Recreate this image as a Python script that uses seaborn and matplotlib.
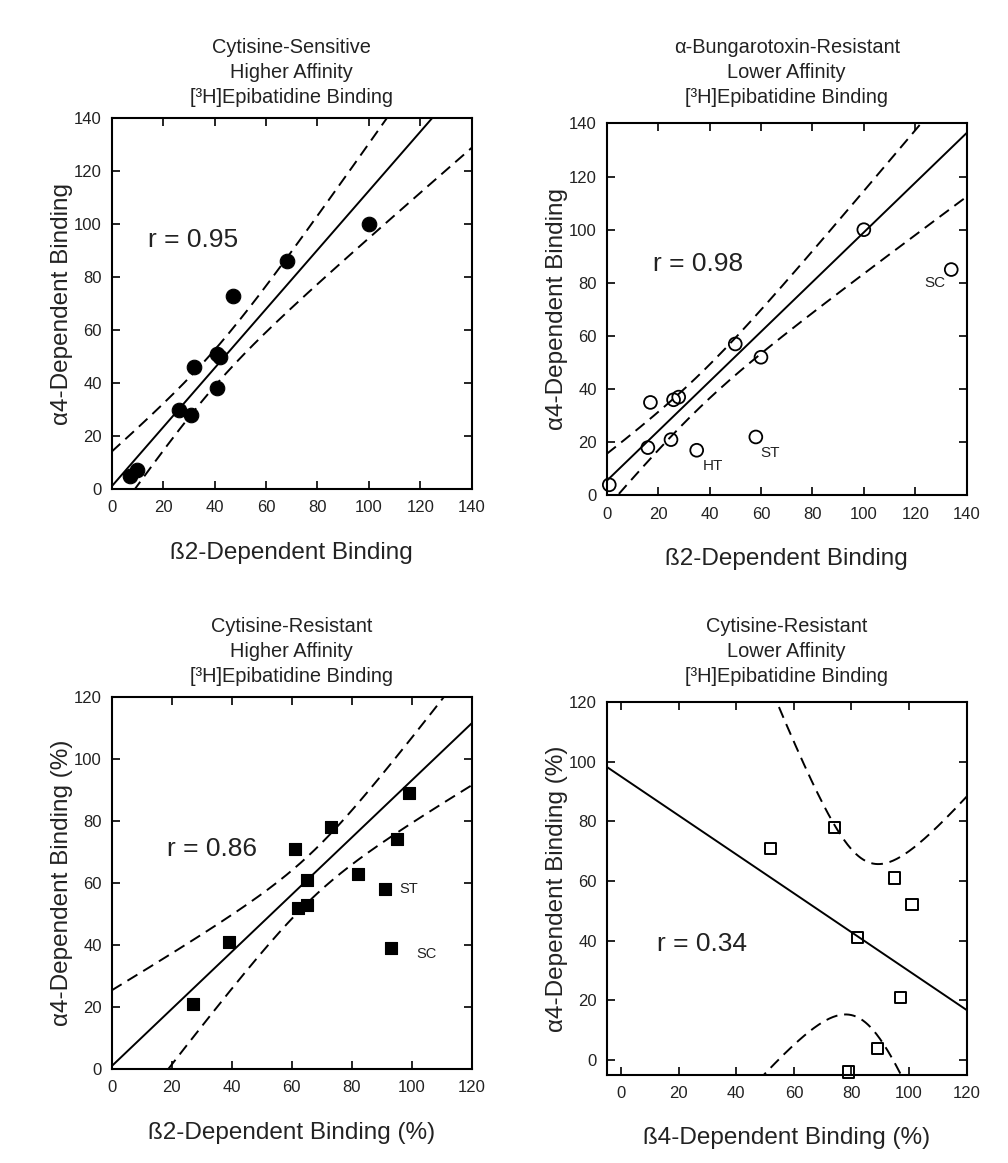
import numpy as np
import matplotlib
matplotlib.use("Agg")
import matplotlib.pyplot as plt
import seaborn as sns

# top left: cytisine-sensitive higher affinity sites
a_x = [7, 10, 26, 31, 32, 41, 41, 42, 47, 68, 100]
a_y = [5, 7, 30, 28, 46, 38, 51, 50, 73, 86, 100]
a_fit = [1.0, 1.115]         # intercept, slope as drawn in the figure
a_r = "r = 0.95"

# top right: a-bungarotoxin-resistant lower affinity sites
b_x = [1, 16, 17, 25, 26, 28, 50, 60, 100]
b_y = [4, 18, 35, 21, 36, 37, 57, 52, 100]
b_out_x = [35, 58, 134]
b_out_y = [17, 22, 85]
b_out_lab = ["HT", "ST", "SC"]
b_fit = [5.5, 0.935]
b_r = "r = 0.98"

# bottom left: cytisine-resistant higher affinity sites
c_x = [27, 39, 61, 73, 65, 62, 65, 82, 95, 99]
c_y = [21, 41, 71, 78, 61, 52, 53, 63, 74, 89]
c_out_x = [91, 93]
c_out_y = [58, 39]
c_out_lab = ["ST", "SC"]
c_fit = [1.0, 0.92]
c_r = "r = 0.86"

# bottom right: cytisine-resistant lower affinity sites
d_x = [52, 74, 82, 95, 101, 97, 89, 79]
d_y = [71, 78, 41, 61, 52, 21, 4, -4]
d_fit = [95.0, -0.652]
d_r = "r = 0.34"

# two sided 95% t values by degrees of freedom
T975 = {6: 2.447, 7: 2.365, 8: 2.306, 9: 2.262}

titles = [
    "Cytisine-Sensitive\nHigher Affinity\n[\u00b3H]Epibatidine Binding",
    "\u03b1-Bungarotoxin-Resistant\nLower Affinity\n[\u00b3H]Epibatidine Binding",
    "Cytisine-Resistant\nHigher Affinity\n[\u00b3H]Epibatidine Binding",
    "Cytisine-Resistant\nLower Affinity\n[\u00b3H]Epibatidine Binding",
]

sns.set_theme(style="ticks")
plt.rcParams["font.family"] = ["Liberation Sans", "DejaVu Sans"]
plt.rcParams["axes.linewidth"] = 1.5
TXT = "#222222"


def draw_fit(ax, x, y, fit, lo, hi):
    x = np.asarray(x, float)
    y = np.asarray(y, float)
    b0, b1 = fit
    n = len(x)
    s = np.sqrt(np.sum((y - (b0 + b1 * x)) ** 2) / (n - 2))
    sxx = np.sum((x - x.mean()) ** 2)
    xx = np.linspace(lo, hi, 300)
    yy = b0 + b1 * xx
    w = T975[n - 2] * s * np.sqrt(1.0 / n + (xx - x.mean()) ** 2 / sxx)
    ax.plot(xx, yy, color="black", lw=1.4, zorder=2)
    for sign in (1, -1):
        ax.plot(xx, yy + sign * w, color="black", lw=1.4,
                dashes=(6, 3.5), zorder=2)


def style(ax, lim, ticks, title, title_y, xlabel, ylabel):
    ax.set_xlim(lim)
    ax.set_ylim(lim)
    ax.set_xticks(ticks)
    ax.set_yticks(ticks)
    ax.tick_params(direction="in", length=6, width=1.2, top=True, right=True,
                   labelsize=12, colors="black", labelcolor=TXT)
    ax.tick_params(axis="y", pad=7)
    ax.tick_params(axis="x", pad=8)
    ax.set_xlabel(xlabel, fontsize=17.5, labelpad=19, color=TXT)
    ax.set_ylabel(ylabel, fontsize=17.5, labelpad=1, color=TXT)
    for sp in ax.spines.values():
        sp.set_color("black")
    pos = ax.get_position()
    fig.text(pos.x0 + pos.width / 2, title_y, title, fontsize=14.4,
             ha="center", va="center", multialignment="center",
             linespacing=1.4, color=TXT)


fig = plt.figure(figsize=(10.08, 11.63), dpi=100)
ax1 = fig.add_axes([0.1108, 0.5795, 0.3571, 0.319])
ax2 = fig.add_axes([0.6019, 0.5740, 0.3571, 0.3199])
ax3 = fig.add_axes([0.1108, 0.0806, 0.3571, 0.3204])
ax4 = fig.add_axes([0.6019, 0.0757, 0.3571, 0.3207])

t140 = list(range(0, 141, 20))
t120 = list(range(0, 121, 20))
top_title_y = 0.9375
bottom_title_y = 0.4394

# top left
draw_fit(ax1, a_x, a_y, a_fit, 0, 140)
sns.scatterplot(x=a_x, y=a_y, ax=ax1, marker="o", s=110, color="black",
                edgecolor="black", linewidth=0.8, clip_on=False, zorder=3)
ax1.text(14, 94, a_r, fontsize=19, va="center", color=TXT)
style(ax1, (0, 140), t140, titles[0], top_title_y, "\u00df2-Dependent Binding",
      "\u03b14-Dependent Binding")

# top right
draw_fit(ax2, b_x, b_y, b_fit, 0, 140)
sns.scatterplot(x=b_x + b_out_x, y=b_y + b_out_y, ax=ax2, marker="o", s=85,
                facecolor="none", edgecolor="black", linewidth=1.3,
                clip_on=False, zorder=3)
b_lab_pos = [(41.5, 11), (63.5, 16), (127.5, 80)]
for lab, (tx, ty) in zip(b_out_lab, b_lab_pos):
    ax2.text(tx, ty, lab, fontsize=11, ha="center", va="center", color=TXT)
ax2.text(18, 87, b_r, fontsize=19, va="center", color=TXT)
style(ax2, (0, 140), t140, titles[1], top_title_y, "\u00df2-Dependent Binding",
      "\u03b14-Dependent Binding")

# bottom left
draw_fit(ax3, c_x, c_y, c_fit, 0, 120)
sns.scatterplot(x=c_x + c_out_x, y=c_y + c_out_y, ax=ax3, marker="s", s=85,
                color="black", edgecolor="black", linewidth=0.8,
                clip_on=False, zorder=3)
c_lab_pos = [(99, 58), (105, 37)]
for lab, (tx, ty) in zip(c_out_lab, c_lab_pos):
    ax3.text(tx, ty, lab, fontsize=10.5, ha="center", va="center", color=TXT)
ax3.text(18.5, 71, c_r, fontsize=19, va="center", color=TXT)
style(ax3, (0, 120), t120, titles[2], bottom_title_y,
      "\u00df2-Dependent Binding (%)", "\u03b14-Dependent Binding (%)")

# bottom right
draw_fit(ax4, d_x, d_y, d_fit, -5, 120)
sns.scatterplot(x=d_x, y=d_y, ax=ax4, marker="s", s=65, facecolor="none",
                edgecolor="black", linewidth=1.4, clip_on=False, zorder=3)
ax4.text(12.5, 39, d_r, fontsize=19, va="center", color=TXT)
style(ax4, (-5, 120), t120, titles[3], bottom_title_y,
      "\u00df4-Dependent Binding (%)", "\u03b14-Dependent Binding (%)")

fig.savefig("out.png", dpi=100, facecolor="white")
